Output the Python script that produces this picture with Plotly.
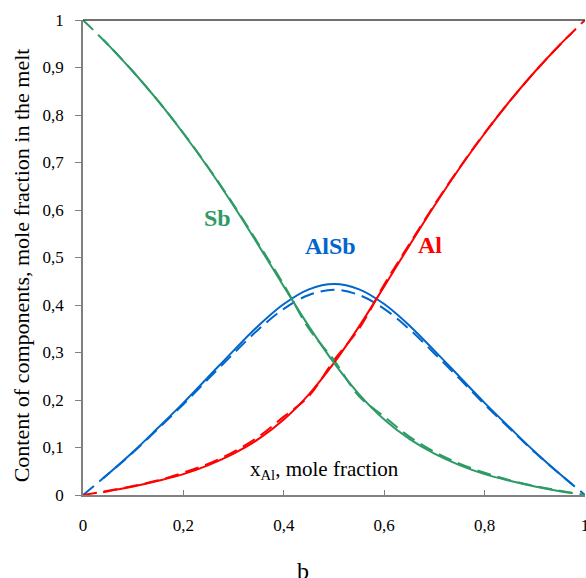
import plotly.graph_objects as go

# x_Al, mole fraction
x_dash = [0, 0.05, 0.1, 0.15, 0.2, 0.25, 0.3, 0.35, 0.4, 0.45, 0.5,
          0.55, 0.6, 0.65, 0.7, 0.75, 0.8, 0.85, 0.9, 0.95, 1]
x_solid = [0.04, 0.05, 0.1, 0.15, 0.2, 0.25, 0.3, 0.35, 0.4, 0.45, 0.5,
           0.55, 0.6, 0.65, 0.7, 0.75, 0.8, 0.85, 0.9, 0.95, 0.975]

# solid curves
sb_solid = [0.959, 0.948, 0.891, 0.829, 0.761, 0.688, 0.609, 0.525, 0.439, 0.355, 0.278,
            0.212, 0.159, 0.118, 0.087, 0.063, 0.044, 0.030, 0.018, 0.008, 0.004]
al_solid = [0.006, 0.008, 0.018, 0.030, 0.044, 0.063, 0.087, 0.118, 0.159, 0.212, 0.278,
            0.355, 0.439, 0.525, 0.609, 0.688, 0.761, 0.829, 0.891, 0.948, 0.974]
alsb_solid = [0.035, 0.044, 0.091, 0.142, 0.194, 0.249, 0.304, 0.357, 0.402, 0.433, 0.444,
              0.433, 0.402, 0.357, 0.304, 0.249, 0.194, 0.142, 0.091, 0.044, 0.022]

# dashed curves
sb_dash = [1.0, 0.948, 0.891, 0.829, 0.762, 0.689, 0.611, 0.528, 0.443, 0.350, 0.284,
           0.208, 0.165, 0.123, 0.091, 0.066, 0.047, 0.031, 0.019, 0.009, 0.0]
al_dash = [0.0, 0.009, 0.019, 0.031, 0.047, 0.066, 0.091, 0.123, 0.165, 0.208, 0.284,
           0.350, 0.443, 0.528, 0.611, 0.689, 0.762, 0.829, 0.891, 0.948, 1.0]
alsb_dash = [0.0, 0.044, 0.090, 0.140, 0.191, 0.245, 0.298, 0.349, 0.392, 0.421, 0.432,
             0.421, 0.392, 0.349, 0.298, 0.245, 0.191, 0.140, 0.090, 0.044, 0.0]

x_ticks = [0, 0.2, 0.4, 0.6, 0.8, 1]
x_tick_labels = ["0", "0,2", "0,4", "0,6", "0,8", "1"]
y_ticks = [0, 0.1, 0.2, 0.3, 0.4, 0.5, 0.6, 0.7, 0.8, 0.9, 1]
y_tick_labels = ["0", "0,1", "0,2", "0,3", "0,4", "0,5", "0,6", "0,7", "0,8", "0,9", "1"]

GREEN = "#2E9A66"
BLUE = "#0066CC"
RED = "#FF0000"
FONT = "'Liberation Serif', 'Times New Roman', Times, serif"

fig = go.Figure()
for ys, c in [(alsb_dash, BLUE), (al_dash, RED), (sb_dash, GREEN)]:
    fig.add_trace(go.Scatter(x=x_dash, y=ys, mode="lines", showlegend=False,
                             line=dict(color=c, width=2, dash="14px,7px", shape="spline")))
for ys, c in [(alsb_solid, BLUE), (al_solid, RED), (sb_solid, GREEN)]:
    fig.add_trace(go.Scatter(x=x_solid, y=ys, mode="lines", showlegend=False,
                             line=dict(color=c, width=2, shape="spline")))

fig.add_annotation(x=0.268, y=0.584, text="<b>Sb</b>", showarrow=False,
                   font=dict(family=FONT, size=24, color=GREEN))
fig.add_annotation(x=0.4925, y=0.524, text="<b>AlSb</b>", showarrow=False,
                   font=dict(family=FONT, size=24, color=BLUE))
fig.add_annotation(x=0.6915, y=0.527, text="<b>Al</b>", showarrow=False,
                   font=dict(family=FONT, size=24, color=RED))
fig.add_annotation(x=0.481, y=0.053, xref="paper", yref="paper",
                   xanchor="center", yanchor="middle",
                   text="x<sub>Al</sub>, mole fraction", showarrow=False,
                   font=dict(family=FONT, size=21, color="black"))
fig.add_annotation(x=0.438, y=-0.16, xref="paper", yref="paper",
                   xanchor="center", yanchor="middle",
                   text="b", showarrow=False,
                   font=dict(family=FONT, size=24, color="black"))
fig.add_annotation(x=-0.123, y=0.484, xref="paper", yref="paper", textangle=-90,
                   xanchor="center", yanchor="middle",
                   text="Content of components, mole fraction in the melt", showarrow=False,
                   font=dict(family=FONT, size=22, color="black"))

fig.add_shape(type="line", xref="paper", yref="paper", x0=0, x1=1, y0=1, y1=1,
              line=dict(color="#404040", width=1.5))

fig.update_layout(
    width=586, height=578,
    margin=dict(l=83, r=0.5, t=20, b=83),
    paper_bgcolor="white", plot_bgcolor="white",
    font=dict(family=FONT, size=17, color="black"),
    xaxis=dict(range=[0, 1], tickvals=x_ticks, ticktext=x_tick_labels, automargin=False,
               showgrid=False, zeroline=False, showline=True, linecolor="#808080",
               linewidth=1.5, ticks="inside", ticklen=5, tickcolor="#808080",
               ticklabelstandoff=14, ticklabeloverflow="allow",
               tickfont=dict(family=FONT, size=17)),
    yaxis=dict(range=[0, 1], tickvals=y_ticks, ticktext=y_tick_labels, automargin=False,
               showgrid=False, zeroline=False, showline=True, linecolor="#808080",
               linewidth=1.5, ticks="outside", ticklen=6, tickcolor="#808080",
               ticklabelstandoff=8, ticklabeloverflow="allow",
               tickfont=dict(family=FONT, size=17)),
)

# remove the default page margin so the 586x578 figure fills the window exactly
fig.write_html("out.html", config={"displayModeBar": False},
               post_script="document.body.style.margin='0';document.body.style.overflow='hidden';")
